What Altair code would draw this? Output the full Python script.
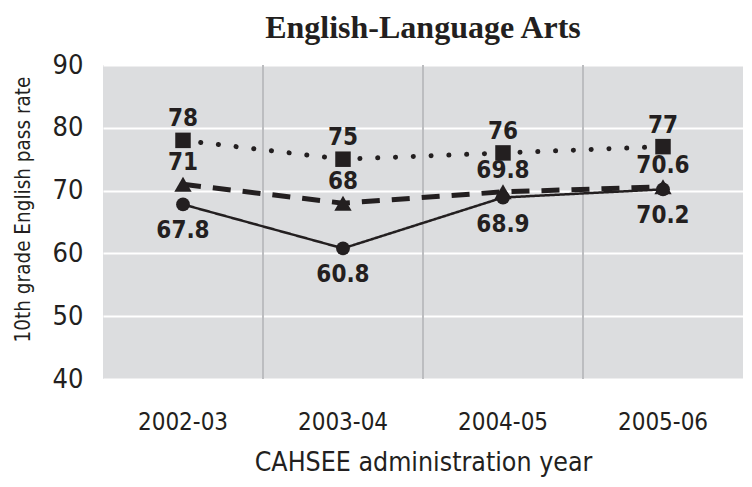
import altair as alt
import pandas as pd

years = ["2002-03", "2003-04", "2004-05", "2005-06"]
series_names = ["square", "triangle", "circle"]
square_vals = [78, 75, 76, 77]
triangle_vals = [71, 68, 69.8, 70.6]
circle_vals = [67.8, 60.8, 68.9, 70.2]
y_ticks = [40, 50, 60, 70, 80, 90]

INK = "#231f20"
COND = "DejaVu Sans Condensed, sans-serif"

rows = []
for name, vals in zip(series_names, [square_vals, triangle_vals, circle_vals]):
    for y, v in zip(years, vals):
        rows.append({"series": name, "year": y, "value": v, "label": f"{v:g}"})
df = pd.DataFrame(rows)
bounds = pd.DataFrame({"year": years[:-1]})

xscale = alt.Scale(type="band", domain=years, paddingInner=0, paddingOuter=0)
xaxis = alt.Axis(labelAngle=0, ticks=False, domain=False, grid=False,
                 labelFont=COND, labelFontSize=24, labelColor=INK, labelPadding=31,
                 title="CAHSEE administration year", titleFont=COND, titleFontSize=26.5,
                 titleFontWeight="normal", titleColor=INK, titlePadding=15)
yscale = alt.Scale(domain=[40, 90], nice=False, zero=False)
yaxis = alt.Axis(values=y_ticks, grid=True, gridColor="white", gridWidth=2,
                 ticks=False, domain=False, labelFont=COND, labelFontSize=27,
                 labelColor=INK, labelPadding=20,
                 title="10th grade English pass rate", titleFont=COND,
                 titleFontSize=20.5, titleFontWeight="normal", titleColor=INK,
                 titlePadding=19, titleY=144)

X = alt.X("year:N", scale=xscale, axis=xaxis)
Y = alt.Y("value:Q", scale=yscale, axis=yaxis)

rules = alt.Chart(bounds).mark_rule(color="#bcbdc0", strokeWidth=2).encode(
    x=alt.X("year:N", scale=xscale, axis=xaxis, bandPosition=1)
)

styles = {
    "square": dict(dash=[0.1, 17.7], width=5, cap="round", shape="square", size=240, dy=-21),
    "triangle": dict(dash=[18, 12], width=5, cap="butt", shape="triangle-up", size=300, dy=-21),
    "circle": dict(dash=[1, 0], width=2.5, cap="butt", shape="circle", size=190, dy=27),
}

layers = [rules]
for name in series_names:
    s = styles[name]
    base = alt.Chart(df).transform_filter(alt.datum.series == name)
    layers.append(base.mark_line(color=INK, strokeWidth=s["width"], strokeDash=s["dash"],
                                 strokeCap=s["cap"]).encode(x=X, y=Y))
for name in series_names:
    s = styles[name]
    base = alt.Chart(df).transform_filter(alt.datum.series == name)
    layers.append(base.mark_point(shape=s["shape"], size=s["size"], filled=True,
                                  color=INK, opacity=1).encode(x=X, y=Y))
for name in series_names:
    s = styles[name]
    base = alt.Chart(df).transform_filter(alt.datum.series == name)
    layers.append(base.mark_text(font=COND, fontSize=24, fontWeight="bold", color=INK,
                                 dy=s["dy"], baseline="middle").encode(x=X, y=Y, text="label:N"))

chart = alt.layer(*layers).properties(
    width=640, height=314,
    title=alt.TitleParams("English-Language Arts", font="Liberation Serif",
                          fontSize=32, fontWeight="bold", color=INK, offset=6,
                          anchor="middle"),
    autosize=alt.AutoSizeParams(type="none"),
    padding={"left": 95, "top": 57, "right": 0, "bottom": 100},
).configure_view(stroke=None, fill="#dcdddf")

chart.save("out.html", embed_options={"renderer": "svg", "actions": False})
